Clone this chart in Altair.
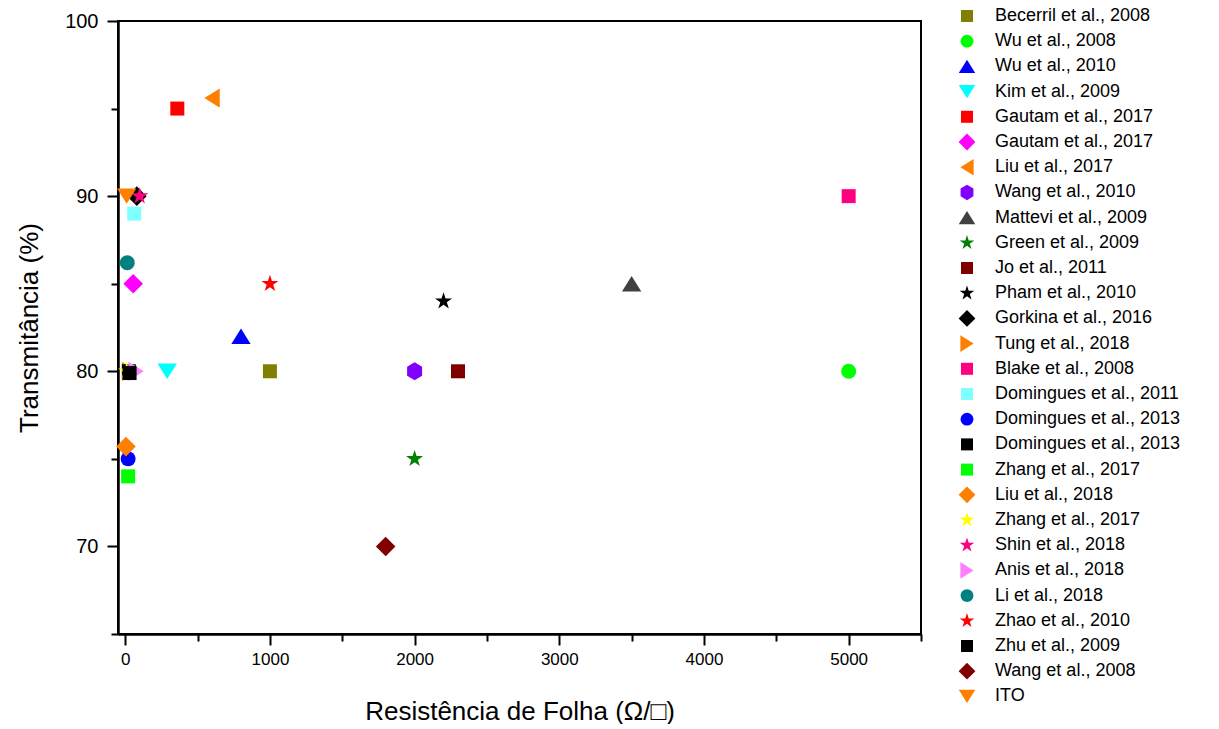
import altair as alt
import pandas as pd

labels = [
    "Becerril et al., 2008", "Wu et al., 2008", "Wu et al., 2010", "Kim et al., 2009",
    "Gautam et al., 2017", "Gautam et al., 2017 ", "Liu et al., 2017", "Wang et al., 2010",
    "Mattevi et al., 2009", "Green et al., 2009", "Jo et al., 2011", "Pham et al., 2010",
    "Gorkina et al., 2016", "Tung et al., 2018", "Blake et al., 2008", "Domingues et al., 2011",
    "Domingues et al., 2013", "Domingues et al., 2013 ", "Zhang et al., 2017", "Liu et al., 2018",
    "Zhang et al., 2017 ", "Shin et al., 2018", "Anis et al., 2018", "Li et al., 2018",
    "Zhao et al., 2010", "Zhu et al., 2009", "Wang et al., 2008", "ITO",
]
resistance = [1000, 5000, 800, 290, 360, 55, 600, 2000, 3500, 2000, 2300, 2200,
              80, 30, 5000, 62, 20, 25, 20, 5, 10, 100, 75, 14, 1000, 30, 1800, 10]
transmittance = [80, 80, 82, 80, 95, 85, 95.6, 80, 85, 75, 80, 84,
                 90, 80, 90, 89, 75, 80, 74, 75.7, 80, 90, 80, 86.2, 85, 79.9, 70, 90]

# marker outlines (unit box, scaled by the symbol size)
SQ = "M-1,-1L1,-1L1,1L-1,1Z"
CI = ("M1.07,0L0.99,0.41L0.76,0.76L0.41,0.99L0,1.07L-0.41,0.99L-0.76,0.76L-0.99,0.41L-1.07,0"
      "L-0.99,-0.41L-0.76,-0.76L-0.41,-0.99L0,-1.07L0.41,-0.99L0.76,-0.76L0.99,-0.41Z")
TU = "M0,-1.1L1.38,1.1L-1.38,1.1Z"
TD = "M0,1.1L1.38,-1.1L-1.38,-1.1Z"
TL = "M-1.1,0L1.1,-1.38L1.1,1.38Z"
TR = "M1.1,0L-1.1,-1.38L-1.1,1.38Z"
DI = "M0,-1.4L1.4,0L0,1.4L-1.4,0Z"
HX = "M0,-1.29L1.07,-0.64L1.07,0.64L0,1.29L-1.07,0.64L-1.07,-0.64Z"
ST = ("M0,-1.28L0.288,-0.396L1.217,-0.396L0.465,0.151L0.753,1.036L0,0.489"
      "L-0.753,1.036L-0.465,0.151L-1.217,-0.396L-0.288,-0.396Z")

colors = ["#808000", "#00FF00", "#0000FF", "#00FFFF", "#FF0000", "#FF00FF", "#FF8000", "#8000FF",
          "#404040", "#008000", "#800000", "#000000", "#000000", "#FF8000", "#FF0080", "#80FFFF",
          "#0000FF", "#000000", "#00FF00", "#FF8000", "#FFFF00", "#FF0080", "#FF80FF", "#008080",
          "#FF0000", "#000000", "#800000", "#FF8000"]
shapes = [SQ, CI, TU, TD, SQ, DI, TL, HX,
          TU, ST, SQ, ST, DI, TR, SQ, SQ,
          CI, SQ, SQ, DI, ST, ST, TR, CI,
          ST, SQ, DI, TD]

x_major = [0, 1000, 2000, 3000, 4000, 5000]
x_minor = [500, 1500, 2500, 3500, 4500, 5500]
y_major = [70, 80, 90, 100]
y_minor = [65, 75, 85, 95]

df = pd.DataFrame({"label": labels, "R": resistance, "T": transmittance})

FONT = "Liberation Sans"
xscale = alt.Scale(domain=[-50, 5500], nice=False, zero=False)
yscale = alt.Scale(domain=[65, 100], nice=False, zero=False)

common_axis = dict(domainColor="black", domainWidth=2, tickColor="black", tickWidth=2,
                   grid=False, labelFont=FONT, titleFont=FONT, labelColor="black", titleColor="black")

points = alt.Chart(df).mark_point(filled=True, size=196, opacity=1, strokeWidth=0).encode(
    x=alt.X("R:Q", scale=xscale,
            axis=alt.Axis(values=x_major, tickSize=11, labelFontSize=17, labelPadding=6,
                          title="Resistência de Folha (Ω/□)", titleFontSize=26, titleFontWeight="normal",
                          titlePadding=31, orient="bottom", format="d", **common_axis)),
    y=alt.Y("T:Q", scale=yscale,
            axis=alt.Axis(values=y_major, tickSize=11, labelFontSize=20, labelPadding=9,
                          title="Transmitância (%)", titleFontSize=26, titleFontWeight="normal",
                          titlePadding=22, orient="left", **common_axis)),
    color=alt.Color("label:N", scale=alt.Scale(domain=labels, range=colors),
                    legend=alt.Legend(title=None, orient="none", legendX=840, legendY=-14,
                                      labelFont=FONT, labelFontSize=18, labelColor="black",
                                      labelLimit=400, symbolSize=144, rowPadding=7.2, labelOffset=19,
                                      symbolLimit=60, padding=0, symbolStrokeWidth=0)),
    shape=alt.Shape("label:N", scale=alt.Scale(domain=labels, range=shapes)),
)

minor = alt.Chart(df).mark_point(opacity=0).encode(
    x=alt.X("R:Q", scale=xscale,
            axis=alt.Axis(values=x_minor, tickSize=7, labels=False, title=None, orient="bottom",
                          **common_axis)),
    y=alt.Y("T:Q", scale=yscale,
            axis=alt.Axis(values=y_minor, tickSize=7, labels=False, title=None, orient="left",
                          **common_axis)),
)

chart = alt.layer(points, minor).resolve_axis(x="independent", y="independent").properties(
    width=803, height=613, background="white",
    padding={"left": 16, "top": 7, "right": 0, "bottom": 0},
).configure_view(stroke="black", strokeWidth=2)

chart.save("out.html", embed_options={"renderer": "svg", "actions": False})
